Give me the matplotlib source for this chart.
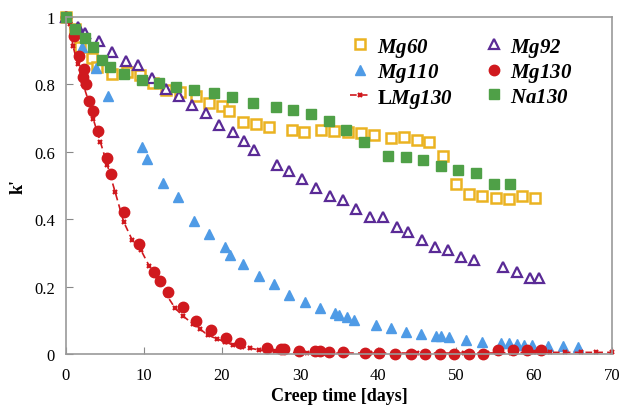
import numpy as np
import matplotlib
matplotlib.use("Agg")
import matplotlib.pyplot as plt

plt.rcParams["font.family"] = ["Liberation Serif", "DejaVu Serif"]
plt.rcParams["mathtext.fontset"] = "custom"
plt.rcParams["mathtext.it"] = "Liberation Serif:style=italic:weight=bold"
plt.rcParams["mathtext.rm"] = "Liberation Serif:style=italic:weight=bold"
plt.rcParams["mathtext.bf"] = "Liberation Serif:weight=bold"

# Mg60 - open yellow squares
mg60_t = [0, 1.15, 1.8, 3.3, 4.0, 5.9, 7.8, 9.5, 11.2, 12.8, 14.6, 16.7, 18.3, 20.0, 20.9,
          22.7, 24.4, 26.0, 29.0, 30.5, 32.7, 34.4, 36.2, 37.8, 39.5, 41.7, 43.3, 45.0,
          46.5, 48.3, 50.0, 51.7, 53.3, 55.1, 56.8, 58.5, 60.1]
mg60_k = [1.0, 0.964, 0.911, 0.878, 0.852, 0.831, 0.837, 0.828, 0.804, 0.783, 0.777, 0.766,
          0.745, 0.736, 0.721, 0.688, 0.682, 0.674, 0.665, 0.659, 0.665, 0.662, 0.659, 0.656,
          0.650, 0.641, 0.644, 0.635, 0.629, 0.588, 0.504, 0.475, 0.469, 0.463, 0.460,
          0.469, 0.463]

# Mg92 - open purple triangles
mg92_t = [0, 1.5, 2.4, 4.2, 5.9, 7.7, 9.2, 11.0, 12.8, 14.5, 16.2, 17.9, 19.6, 21.4, 22.8,
          24.1, 27.1, 28.6, 30.3, 32.1, 33.8, 35.5, 37.2, 39.0, 40.6, 42.4, 43.8, 45.6,
          47.3, 49.0, 50.6, 52.3, 56.0, 57.8, 59.5, 60.6]
mg92_k = [1.0, 0.970, 0.953, 0.929, 0.896, 0.869, 0.858, 0.819, 0.786, 0.766, 0.739, 0.715,
          0.680, 0.659, 0.632, 0.605, 0.561, 0.543, 0.519, 0.493, 0.469, 0.457, 0.430,
          0.407, 0.407, 0.377, 0.362, 0.338, 0.318, 0.309, 0.288, 0.279, 0.258, 0.243,
          0.226, 0.226]

# Mg110 - filled blue triangles
mg110_t = [0, 2.1, 3.8, 5.4, 9.7, 10.4, 12.4, 14.4, 16.4, 18.3, 20.4, 21.0, 22.7, 24.7,
           26.7, 28.6, 30.6, 32.6, 34.5, 35.0, 36.0, 36.9, 39.7, 41.7, 43.6, 45.5, 47.4,
           48.1, 49.1, 51.3, 53.3, 55.8, 56.8, 57.8, 58.7, 59.7, 61.8, 63.7, 65.6]
mg110_k = [1.0, 0.911, 0.85, 0.766, 0.614, 0.579, 0.507, 0.466, 0.395, 0.356, 0.318, 0.294,
           0.267, 0.231, 0.208, 0.175, 0.154, 0.136, 0.122, 0.116, 0.110, 0.101, 0.086,
           0.077, 0.065, 0.059, 0.053, 0.053, 0.050, 0.042, 0.036, 0.033, 0.033, 0.030,
           0.027, 0.027, 0.024, 0.024, 0.021]

# Mg130 - filled red circles
mg130_t = [0, 1.0, 1.7, 2.2, 2.3, 2.6, 2.9, 3.5, 4.1, 5.3, 5.8, 7.4, 9.4, 11.3, 12.1, 13.1,
           15.0, 16.7, 18.6, 20.5, 22.3, 25.8, 27.6, 27.9, 29.9, 31.9, 32.6, 33.7, 35.5,
           38.3, 40.1, 42.2, 44.2, 46.0, 47.9, 49.7, 51.7, 53.5, 55.4, 57.3, 59.1, 60.9]
mg130_k = [1.0, 0.944, 0.884, 0.822, 0.846, 0.80, 0.751, 0.721, 0.662, 0.582, 0.534, 0.421,
           0.326, 0.243, 0.217, 0.184, 0.139, 0.098, 0.071, 0.047, 0.033, 0.018, 0.015,
           0.015, 0.009, 0.009, 0.009, 0.006, 0.006, 0.003, 0.003, 0.0, 0.0, 0.0, 0.0,
           0.0, 0.0, 0.0, 0.012, 0.012, 0.012, 0.012]

# LMg130 - red dashed line with small crosses
lmg130_t = [0, 0.5, 0.9, 1.5, 2.2, 2.9, 3.5, 4.4, 5.3, 6.3, 7.4, 8.5, 9.6, 10.7, 11.8, 12.9,
            14.0, 15.0, 16.3, 17.2, 18.2, 19.4, 20.4, 21.4, 22.6, 23.6, 24.7, 26.8, 27.9,
            30.9, 33.0, 36.0, 39.0, 42.0, 45.0, 48.0, 51.0, 54.0, 57.0, 60.0, 62.0, 64.0,
            66.0, 68.0, 70.0]
lmg130_k = [1.0, 0.979, 0.914, 0.86, 0.80, 0.75, 0.697, 0.63, 0.561, 0.481, 0.392, 0.338,
            0.309, 0.26, 0.22, 0.175, 0.136, 0.113, 0.089, 0.074, 0.056, 0.045, 0.036,
            0.027, 0.021, 0.018, 0.012, 0.009, 0.006, 0.003, 0.003, 0.003, 0.003, 0.003,
            0.003, 0.003, 0.003, 0.003, 0.004, 0.005, 0.005, 0.005, 0.005, 0.005, 0.005]

# Na130 - filled green squares
na130_t = [0, 1.2, 2.4, 3.5, 4.6, 5.6, 7.4, 9.7, 11.9, 14.1, 16.4, 19.0, 21.3, 24.0, 26.9,
           29.1, 31.4, 33.7, 35.9, 38.2, 41.3, 43.6, 45.8, 48.1, 50.3, 52.6, 54.9, 56.9]
na130_k = [1.0, 0.964, 0.938, 0.911, 0.872, 0.852, 0.831, 0.813, 0.804, 0.792, 0.783, 0.774,
           0.763, 0.745, 0.733, 0.724, 0.712, 0.691, 0.665, 0.629, 0.588, 0.585, 0.576,
           0.558, 0.546, 0.537, 0.504, 0.504]

YEL, PUR, BLU, RED, GRN = "#EBB321", "#5A2A96", "#4F9BE6", "#D0191E", "#4FA047"

fig = plt.figure(figsize=(6.19, 4.10), dpi=100)
ax = fig.add_axes([0.1066, 0.134, 0.882, 0.822])

kw = dict(clip_on=False)
h60, = ax.plot(mg60_t, mg60_k, ls="none", marker="s", ms=6.5, mfc="white", mec=YEL,
               mew=1.8, label=r"$\mathit{Mg60}$", **kw)
h92, = ax.plot(mg92_t, mg92_k, ls="none", marker="^", ms=6.5, mfc="white", mec=PUR,
               mew=1.6, label=r"$\mathit{Mg92}$", **kw)
h110, = ax.plot(mg110_t, mg110_k, ls="none", marker="^", ms=7.5, color=BLU, mec=BLU,
                label=r"$\mathit{Mg110}$", **kw)
hL, = ax.plot(lmg130_t, lmg130_k, ls=(0, (4, 2.5)), lw=1.2, color=RED, marker="x", ms=3.5,
              mew=1.6, label=r"L$\mathit{Mg130}$", **kw)
h130, = ax.plot(mg130_t, mg130_k, ls="none", marker="o", ms=7.5, color=RED, mec=RED,
                label=r"$\mathit{Mg130}$", **kw)
hNa, = ax.plot(na130_t, na130_k, ls="none", marker="s", ms=7, color=GRN, mec=GRN,
               label=r"$\mathit{Na130}$", **kw)

ax.set_xlim(0, 70)
ax.set_ylim(0, 1)
ax.set_xticks(np.arange(0, 71, 10))
ax.set_yticks([0, 0.2, 0.4, 0.6, 0.8, 1.0])
ax.set_yticklabels(["0", "0.2", "0.4", "0.6", "0.8", "1"])
ax.tick_params(direction="in", length=5, width=0.8, color="#888888", labelsize=12)
ax.tick_params(axis="x", pad=9)
ax.tick_params(axis="y", pad=8)
for s in ax.spines.values():
    s.set_color("#999999")
    s.set_linewidth(1.2)
ax.set_xlabel("Creep time [days]", fontsize=13, fontweight="bold", labelpad=3)
ax.set_ylabel("k'", fontsize=13, fontweight="bold", rotation=90, labelpad=5)

leg = ax.legend(handles=[h60, h110, hL, h92, h130, hNa], ncol=2, frameon=False,
                loc="upper left", bbox_to_anchor=(0.486, 1.0), fontsize=15,
                handlelength=1.0, handletextpad=0.3, columnspacing=1.45,
                labelspacing=0.12)
for t in leg.get_texts():
    t.set_fontweight("bold")

fig.savefig("out.png", dpi=100)
